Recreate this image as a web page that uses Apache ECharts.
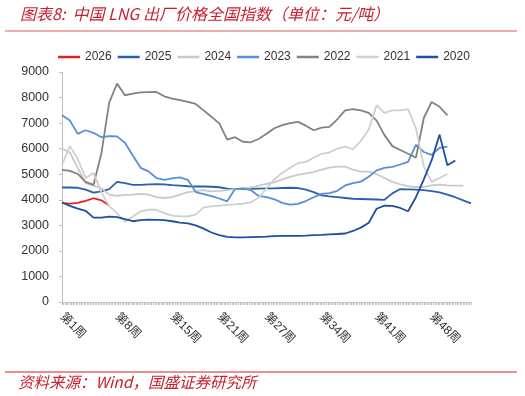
<!DOCTYPE html>
<html>
<head>
<meta charset="UTF-8">
<title>中国LNG出厂价格全国指数</title>
<script src="https://cdn.jsdelivr.net/npm/echarts@6/dist/echarts.min.js"></script>
<style>
  html, body { margin: 0; padding: 0; background: #fff; }
  #main { width: 525px; height: 396px; }
</style>
</head>
<body>
<div id="main"></div>
<script>
// 周度数据 (元/吨)，第1周起
var y2026 = [3870, 3850, 3880, 3960, 4060, 3980, 3780];
var y2025 = [4480, 4480, 4470, 4400, 4280, 4330, 4420, 4700, 4650, 4580,
             4580, 4600, 4610, 4600, 4570, 4550, 4530, 4520, 4520, 4510,
             4490, 4440, 4420, 4420, 4430, 4440, 4450, 4450, 4460, 4470,
             4460, 4400, 4300, 4170, 4130, 4100, 4070, 4040, 4030, 4020,
             4010, 4000, 4250, 4420, 4410, 4400, 4380, 4340, 4290, 4200,
             4100, 3980, 3860];
var y2024 = [6000, 5850, 5250, 4650, 4550, 4450, 4200, 4150, 4190, 4200,
             4230, 4200, 4100, 4070, 4100, 4200, 4300, 4340, 4380, 4330,
             4350, 4380, 4420, 4450, 4480, 4550, 4620, 4680, 4800, 4900,
             4970, 5030, 5080, 5180, 5260, 5300, 5300, 5180, 5100, 5100,
             5000, 4850, 4700, 4600, 4530, 4500, 4500, 4560, 4590, 4560,
             4550, 4550];
var y2023 = [7310, 7100, 6580, 6720, 6620, 6450, 6490, 6480, 6230, 5730,
             5250, 5110, 4850, 4780, 4840, 4880, 4780, 4300, 4220, 4140,
             4050, 3940, 4420, 4450, 4380, 4150, 4100, 4020, 3880, 3810,
             3840, 3950, 4100, 4230, 4260, 4350, 4560, 4650, 4710, 4900,
             5150, 5250, 5290, 5380, 5480, 6150, 5870, 5760, 6030, 6080];
var y2022 = [5170, 5130, 5010, 4700, 4580, 5800, 7800, 8550, 8090, 8150,
             8200, 8210, 8220, 8050, 7960, 7900, 7830, 7750, 7500, 7250,
             6990, 6350, 6450, 6270, 6250, 6380, 6580, 6800, 6920, 7000,
             7050, 6900, 6720, 6820, 6850, 7150, 7500, 7550, 7500, 7400,
             7100, 6530, 6100, 5950, 5800, 5650, 7200, 7830, 7640, 7300];
var y2021 = [5360, 6100, 5600, 4850, 5050, 4300, 3750, 3480, 3140, 3350,
             3550, 3610, 3610, 3480, 3380, 3350, 3350, 3420, 3700, 3740,
             3770, 3800, 3820, 3845, 3900, 4080, 4450, 4800, 5050, 5250,
             5430, 5480, 5650, 5800, 5850, 6000, 6080, 5980, 6300, 6750,
             7700, 7400, 7500, 7500, 7550, 6800, 5300, 4700, 4850, 5010];
var y2020 = [3900, 3760, 3650, 3570, 3300, 3300, 3340, 3320, 3240, 3160,
             3200, 3220, 3210, 3200, 3160, 3110, 3080, 3000, 2870, 2720,
             2620, 2550, 2530, 2530, 2540, 2550, 2560, 2580, 2590, 2590,
             2590, 2600, 2620, 2630, 2650, 2660, 2680, 2780, 2910, 3100,
             3650, 3770, 3760, 3680, 3550, 4100, 4800, 5550, 6550, 5350,
             5540];

var labelWeeks = [1, 8, 15, 21, 27, 34, 41, 48];
var yTicks = [0, 1000, 2000, 3000, 4000, 5000, 6000, 7000, 8000, 9000];

var seriesNames = ['2026', '2025', '2024', '2023', '2022', '2021', '2020'];
var seriesData = [y2026, y2025, y2024, y2023, y2022, y2021, y2020];
var seriesColors = ['#D9262C', '#2D5FB0', '#C9C9C9', '#5A8ED6', '#828282', '#CFCFCF', '#1F4FA3'];

// 密集刻度
var minorTicks = [];
for (var t = 0; t <= 260; t++) {
    minorTicks.push(Math.round((1 + t * 0.2) * 10) / 10);
}

var font = "'Liberation Sans', Arial, 'Noto Sans CJK SC', sans-serif";
var red = '#C8202F';

var chart = echarts.init(document.getElementById('main'), null, { renderer: 'canvas' });

var series = seriesNames.map(function (name, i) {
    return {
        name: name,
        type: 'line',
        data: seriesData[i].map(function (v, k) { return [k + 1, v]; }),
        showSymbol: false,
        symbol: 'none',
        lineStyle: { width: 1.8, color: seriesColors[i] },
        itemStyle: { color: seriesColors[i] }
    };
});

var option = {
    animation: false,
    backgroundColor: '#fff',
    title: {
        text: '图表8:  中国 LNG 出厂价格全国指数（单位：元/吨）',
        left: 15,
        top: 1,
        textStyle: {
            fontFamily: "'Noto Sans CJK SC', sans-serif",
            fontStyle: 'italic',
            fontWeight: 'normal',
            fontSize: 16,
            color: red
        }
    },
    legend: {
        data: seriesNames,
        left: 53,
        top: 46,
        icon: 'rect',
        itemWidth: 22,
        itemHeight: 2.5,
        itemGap: 6,
        textStyle: { fontFamily: font, fontSize: 12, color: '#333' }
    },
    graphic: [
        { type: 'line', shape: { x1: 5, y1: 31, x2: 517, y2: 31 }, style: { stroke: '#D46060', lineWidth: 1 } },
        { type: 'line', shape: { x1: 5, y1: 372, x2: 517, y2: 372 }, style: { stroke: '#D42020', lineWidth: 1 } },
        {
            type: 'text', left: 18, top: 374,
            style: {
                text: '资料来源：Wind，国盛证券研究所',
                fill: red,
                font: "italic 15.5px 'Noto Sans CJK SC', sans-serif"
            }
        }
    ],
    grid: { left: 62, right: 54, top: 72, bottom: 94 },
    xAxis: {
        type: 'value',
        min: 1,
        max: 53,
        splitLine: { show: false },
        axisLine: { show: true, lineStyle: { color: '#BFBFBF', width: 1 } },
        axisTick: { show: true, customValues: minorTicks, length: 3, lineStyle: { color: '#C4C4C4', width: 1 } },
        axisLabel: {
            customValues: labelWeeks,
            rotate: -45,
            margin: 13,
            fontFamily: font,
            fontSize: 12,
            color: '#333',
            formatter: function (v) { return '第' + v + '周'; }
        }
    },
    yAxis: {
        type: 'value',
        min: 0,
        max: 9000,
        interval: 1000,
        splitLine: { show: false },
        axisLine: { show: true, lineStyle: { color: '#BFBFBF', width: 1 } },
        axisTick: { show: true, length: 3, lineStyle: { color: '#BFBFBF' } },
        axisLabel: {
            customValues: yTicks,
            margin: 13,
            fontFamily: font,
            fontSize: 12.5,
            color: '#333',
            formatter: function (v) { return String(v); }
        }
    },
    series: series
};

chart.setOption(option);
</script>
</body>
</html>
